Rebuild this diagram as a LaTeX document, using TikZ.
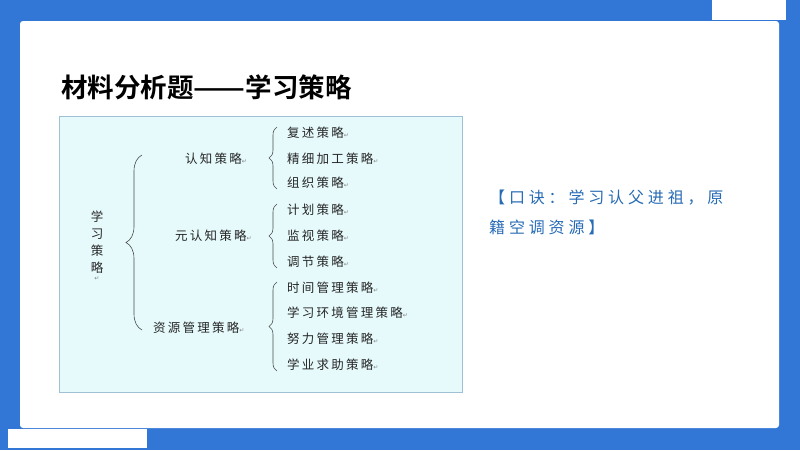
\documentclass[tikz,border=0pt]{standalone}
\usepackage{fontspec}
\usepackage{tikz}
\usetikzlibrary{decorations.pathreplacing}
\setmainfont{Noto Sans CJK SC}[BoldFont={Noto Sans CJK SC Bold}]
\newfontfamily\diagfont{Noto Sans CJK SC}[LetterSpace=18]
\newfontfamily\mnemfont{Noto Sans CJK SC}[LetterSpace=24]
\newfontfamily\symfont{DejaVu Sans}
\definecolor{slideblue}{RGB}{51,119,214}
\definecolor{boxfill}{RGB}{230,250,252}
\definecolor{boxline}{RGB}{160,192,214}
\definecolor{mnemblue}{RGB}{40,108,182}
\newcommand{\retmark}{{\symfont\fontsize{6}{6}\selectfont\textcolor{gray}{↵}}}

\begin{document}
\begin{tikzpicture}[x=1pt,y=-1pt,
  item/.style={font=\diagfont\fontsize{12.5}{14}\selectfont,anchor=west,inner sep=0pt,text=black!85},
  bigbrace/.style={decorate,decoration={brace,amplitude=16pt},draw=black!70,semithick},
  smallbrace/.style={decorate,decoration={brace,amplitude=8pt},draw=black!70,semithick}]
\useasboundingbox (0,0) rectangle (800,450);
% slide background
\fill[slideblue] (0,0) rectangle (800,450);
\fill[white,rounded corners=3pt] (20,21) rectangle (779,428);
\fill[white] (712,0) rectangle (786,20);
\fill[white] (8,429) rectangle (147,448);
\node[anchor=west,inner sep=0pt,font=\bfseries\fontsize{26.5}{26.5}\selectfont] (title) at (61,87) {材料分析题\scalebox{1.15}[1]{——}学习策略};
% diagram box
\draw[boxline,fill=boxfill] (59,116) rectangle (462,392);
\node[font=\diagfont\fontsize{12.5}{17}\selectfont,align=center,inner sep=0pt,text=black!85] (root) at (97,246) {学\\习\\策\\略\\[-9pt]\retmark};
\node[item] (cog) at (185,159) {认知策略\retmark};
\node[item] (meta) at (175,236) {元认知策略\retmark};
\node[item] (res) at (153,328) {资源管理策略\retmark};
\node[item] (fs) at (287,133) {复述策略\retmark};
\node[item] (jx) at (287,159) {精细加工策略\retmark};
\node[item] (zz) at (287,183) {组织策略\retmark};
\node[item] (jh) at (287,210) {计划策略\retmark};
\node[item] (js) at (287,236) {监视策略\retmark};
\node[item] (tj) at (287,262) {调节策略\retmark};
\node[item] (sj) at (287,288) {时间管理策略\retmark};
\node[item] (hj) at (287,313) {学习环境管理策略\retmark};
\node[item] (nl) at (287,339) {努力管理策略\retmark};
\node[item] (qz) at (287,365) {学业求助策略\retmark};
\coordinate (bigtop) at (142,155);
\coordinate (bigbot) at (142,330);
\draw[bigbrace] (bigbot) -- (bigtop);
\draw[smallbrace] ([xshift=-10pt]zz.south west) -- ([xshift=-10pt]fs.north west);
\draw[smallbrace] ([xshift=-10pt]tj.south west) -- ([xshift=-10pt]jh.north west);
\draw[smallbrace] ([xshift=-10pt]qz.south west) -- ([xshift=-10pt]sj.north west);
% mnemonic
\node[anchor=north west,align=left,inner sep=0pt,text=mnemblue,font=\mnemfont\fontsize{16}{30}\selectfont] (mnem) at (489,190) {【口诀：学习认父进祖，原\\籍空调资源】};
\end{tikzpicture}
\end{document}
